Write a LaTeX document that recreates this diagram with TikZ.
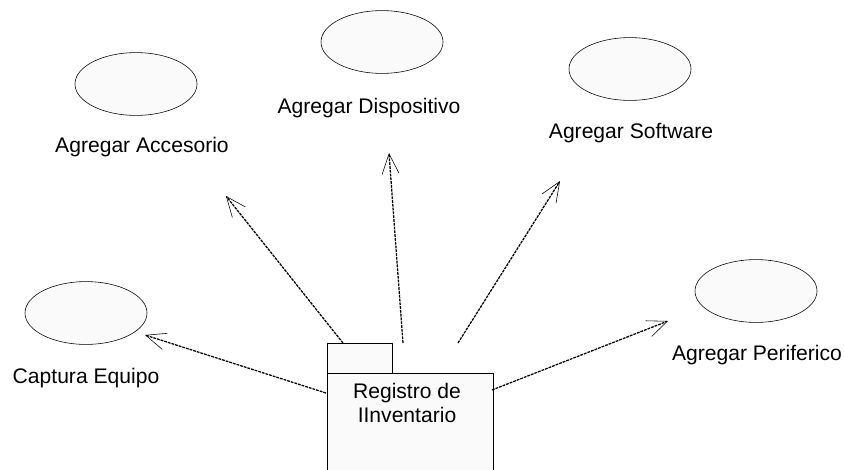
\documentclass[tikz,border=0pt]{standalone}
\usepackage{fontspec}
\setmainfont{Liberation Sans}
\usepackage{tikz}
\usetikzlibrary{arrows.meta}
\usetikzlibrary{shapes.geometric}

\definecolor{casofill}{HTML}{FAFAFA}

\begin{document}
\begin{tikzpicture}[x=0.025cm, y=-0.025cm,
		every node/.append style={font=\fontsize{15}{16.5}\selectfont}]
	\useasboundingbox (0,0) rectangle (844,469);
	\begin{scope}[every node/.style = {ellipse, draw=black, fill=casofill,
			minimum width=3.05cm, minimum height=1.57cm, inner sep=0pt}]
		\node (acc) at (136,84) {};
		\node (disp) at (382,42) {};
		\node (soft) at (630,69) {};
		\node (cap) at (86,313) {};
		\node (per) at (756,291) {};
	\end{scope}
	\begin{scope}[every node/.style = {anchor=base, inner sep=0pt,
			font=\fontsize{15}{16.5}\selectfont}]
		\node (accL) at (142,152) {Agregar Accesorio};
		\node (dispL) at (369,113) {Agregar Dispositivo};
		\node (softL) at (631,138) {Agregar Software};
		\node (capL) at (86,383) {Captura Equipo};
		\node (perL) at (757,360) {Agregar Periferico};
	\end{scope}
	% paquete
	\draw[fill=casofill] (327,343) rectangle (392,373);
	\draw[fill=casofill] (327,373) rectangle (493,480);
	\node[align=center, inner sep=0pt] (reg) at (407,403) {Registro de\\IInventario};
	% extremos de las flechas
	\coordinate (tCap) at (145,335);
	\coordinate (tAcc) at (226,196);
	\coordinate (tDisp) at (389,153);
	\coordinate (tSoft) at (560,181);
	\coordinate (tPer) at (668,321);
	\coordinate (sCap) at (326,393);
	\coordinate (sAcc) at (343,343);
	\coordinate (sDisp) at (403,343);
	\coordinate (sSoft) at (458,343);
	\coordinate (sPer) at (492,390);
	\begin{scope}[>={Straight Barb[length=0.5cm, width=0.42cm, line width=0.4pt]},
			every edge/.style={draw=black, line width=0.9pt,
				dash pattern=on 2pt off 0.7pt}]
		\path [->] (sCap) edge (tCap);
		\path [->] (sAcc) edge (tAcc);
		\path [->] (sDisp) edge (tDisp);
		\path [->] (sSoft) edge (tSoft);
		\path [->] (sPer) edge (tPer);
	\end{scope}
\end{tikzpicture}
\end{document}
